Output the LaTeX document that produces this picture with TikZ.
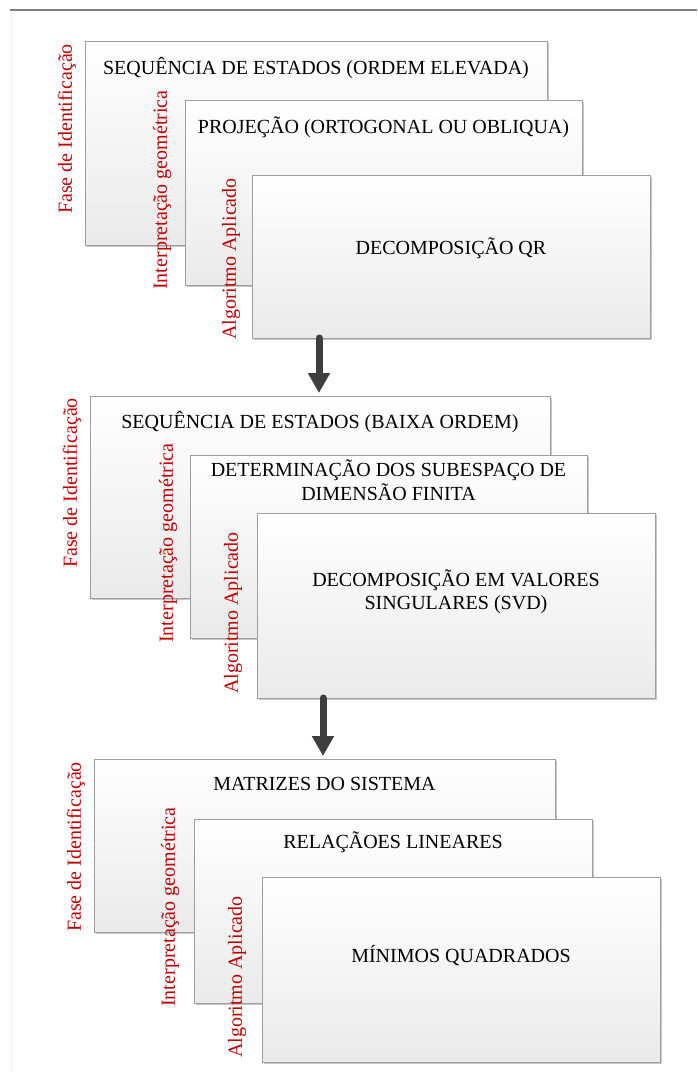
\documentclass[tikz,border=0pt]{standalone}
\usepackage{fontspec}
\setmainfont{Liberation Serif}
\usetikzlibrary{arrows.meta,shadows}
\definecolor{labelred}{RGB}{192,0,0}
\definecolor{boxedge}{RGB}{158,158,158}
\definecolor{boxlow}{RGB}{234,234,234}
\definecolor{arrowgray}{RGB}{62,62,62}
\definecolor{frameline}{RGB}{128,128,128}
\definecolor{frameside}{RGB}{238,238,238}

\tikzset{
  stagebox/.style={draw=boxedge, line width=0.8pt, top color=white, bottom color=boxlow,
    drop shadow={shadow xshift=1.6pt, shadow yshift=-1.6pt, opacity=0.22, fill=black},
    inner sep=0pt, outer sep=0pt, anchor=north west},
  boxtext/.style={font=\fontsize{20}{23.5}\selectfont, text=black, align=center, inner sep=0pt},
  sidelabel/.style={font=\fontsize{20}{24}\selectfont, text=labelred, rotate=90, inner sep=0pt},
  stagearrow/.style={draw=arrowgray, line width=7pt, line cap=round,
    -{Triangle[width=21pt,length=20pt]}, shorten >=3pt}
}

\begin{document}
\begin{tikzpicture}[x=1pt,y=-1pt]
\useasboundingbox (0,0) rectangle (697,1072);

% page frame
\coordinate (fr0) at (10,10);
\coordinate (fr1) at (697,10);
\coordinate (fr2) at (11,1072);
\draw[frameside, line width=1pt] (fr0 -| fr2) -- (fr2);
\draw[frameline, line width=1.5pt] (fr0) -- (fr1);

% ---------- stage 1 ----------
\node[stagebox, minimum width=462pt, minimum height=204pt] (g1a) at (85,41) {};
\node[boxtext] (t1a) at ([yshift=-27pt]g1a.north) {SEQUÊNCIA DE ESTADOS (ORDEM ELEVADA)};
\node[sidelabel] (l1a) at (67,129) {Fase de Identificação};
\node[stagebox, minimum width=397pt, minimum height=185pt] (g1b) at (185,100) {};
\node[boxtext] (t1b) at ([yshift=-27pt]g1b.north) {PROJEÇÃO (ORTOGONAL OU OBLIQUA)};
\node[sidelabel] (l1b) at (162,190) {Interpretação geométrica};
\node[stagebox, minimum width=398pt, minimum height=163pt] (g1c) at (252,175) {};
\node[boxtext] (t1c) at ([yshift=8pt]g1c.center) {DECOMPOSIÇÃO QR};
\node[sidelabel] (l1c) at (231,259) {Algoritmo Aplicado};

% ---------- stage 2 ----------
\node[stagebox, minimum width=460pt, minimum height=202pt] (g2a) at (90,396) {};
\node[boxtext] (t2a) at ([yshift=-26pt]g2a.north) {SEQUÊNCIA DE ESTADOS (BAIXA ORDEM)};
\node[sidelabel] (l2a) at (72,483) {Fase de Identificação};
\node[stagebox, minimum width=397pt, minimum height=183pt] (g2b) at (190,455) {};
\node[boxtext] (t2b) at ([yshift=-25pt]g2b.north) {DETERMINAÇÃO DOS SUBESPAÇO DE\\DIMENSÃO FINITA};
\node[sidelabel] (l2b) at (168,543) {Interpretação geométrica};
\node[stagebox, minimum width=398pt, minimum height=185pt] (g2c) at (257,513) {};
\node[boxtext] (t2c) at ([yshift=14pt]g2c.center) {DECOMPOSIÇÃO EM VALORES\\SINGULARES (SVD)};
\node[sidelabel] (l2c) at (233,613) {Algoritmo Aplicado};

% ---------- stage 3 ----------
\node[stagebox, minimum width=461pt, minimum height=173pt] (g3a) at (94,759) {};
\node[boxtext] (t3a) at ([yshift=-25pt]g3a.north) {MATRIZES DO SISTEMA};
\node[sidelabel] (l3a) at (76,847) {Fase de Identificação};
\node[stagebox, minimum width=398pt, minimum height=184pt] (g3b) at (194,819) {};
\node[boxtext] (t3b) at ([yshift=-23pt]g3b.north) {RELAÇÃOES LINEARES};
\node[sidelabel] (l3b) at (170,907) {Interpretação geométrica};
\node[stagebox, minimum width=398pt, minimum height=185pt] (g3c) at (262,877) {};
\node[boxtext] (t3c) at ([yshift=14pt]g3c.center) {MÍNIMOS QUADRADOS};
\node[sidelabel] (l3c) at (237,977) {Algoritmo Aplicado};

% ---------- flow between stages ----------
\coordinate (a1x) at (319,0);
\coordinate (a2x) at (323,0);
\draw[stagearrow] (g1c.south -| a1x) -- (g2a.north -| a1x);
\draw[stagearrow] (g2c.south -| a2x) -- (g3a.north -| a2x);
\end{tikzpicture}
\end{document}
